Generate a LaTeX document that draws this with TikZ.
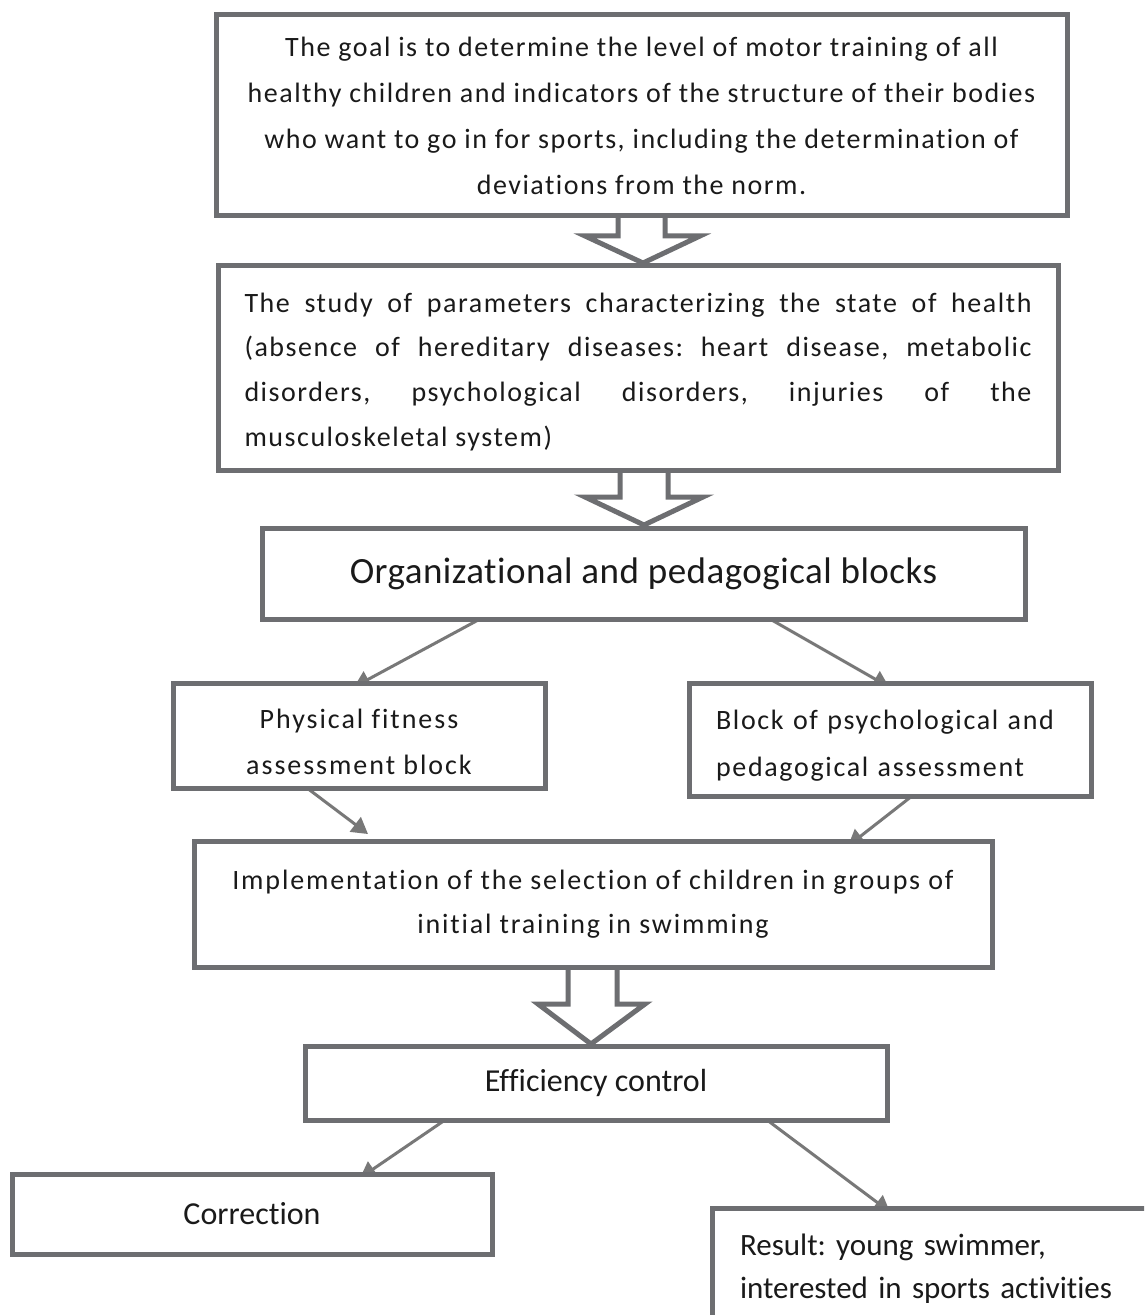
\documentclass[tikz,border=0pt]{standalone}
\usepackage{fontspec}
\setmainfont{Carlito}[Ligatures={TeX,CommonOff}]
\usetikzlibrary{calc,arrows.meta}
\definecolor{boxgray}{HTML}{6D6E71}
\definecolor{arrgray}{HTML}{787878}
\definecolor{txtc}{HTML}{1A1A1A}
\frenchspacing
\begin{document}
\begin{tikzpicture}[x=0.5pt,y=-0.5pt,
  box/.style={draw=boxgray,line width=2.5pt,fill=white,inner sep=0pt,outer sep=0pt,anchor=north west,text=txtc},
  conn/.style={draw=arrgray,line width=1.5pt,-{Triangle[length=8pt,width=9pt]}},
  barrow/.style={draw=boxgray,line width=2.5pt,fill=white,line join=miter},
  fmid/.style={font=\fontsize{16}{21.5}\selectfont}]
\useasboundingbox (0,0) rectangle (1144,1315);
\fill[white] (0,0) rectangle (1144,1315);
\clip (0,0) rectangle (1144,1315);

% block arrows
\draw[barrow] (618,216) -- (618,236) -- (585,236) -- (643,263) -- (700,236) -- (665,236) -- (665,216);
\draw[barrow] (620,470) -- (620,497) -- (585,497) -- (644,525) -- (703,497) -- (668,497) -- (668,470);
\draw[barrow] (568,967) -- (568,1004) -- (538,1004) -- (591,1044) -- (645,1004) -- (617,1004) -- (617,967);

% coordinates of box corners (arrows are drawn beneath the boxes)
\coordinate (b3sw) at (262,619);
\coordinate (b4nw) at (173,683);
\coordinate (b4sw) at (173,788);
\coordinate (b5nw) at (689,683);
\coordinate (b5sw) at (689,796);
\coordinate (b6nw) at (194,841);
\coordinate (b7sw) at (305,1120);
\coordinate (b8nw) at (12,1174);
\coordinate (b9nw) at (712,1208);

% connectors
\draw[conn] ($(b3sw)+(218,0)$) -- ($(b4nw)+(181,4)$);
\draw[conn] ($(b3sw)+(508,0)$) -- ($(b5nw)+(200,4)$);
\draw[conn] ($(b4sw)+(134,0)$) -- ($(b6nw)+(174,-7)$);
\draw[conn] ($(b5sw)+(223,0)$) -- ($(b6nw)+(654,5)$);
\draw[conn] ($(b7sw)+(140,0)$) -- ($(b8nw)+(348,4)$);
\draw[conn] ($(b7sw)+(462,0)$) -- ($(b9nw)+(178,4)$);

% boxes
\node[box,align=center,minimum width=425.5pt,minimum height=100.5pt,
      font=\fontsize{14}{23}\selectfont\addfontfeatures{LetterSpace=5.4}] (b1) at (216,15)
  {The goal is to determine the level of motor training of all\\
   healthy children and indicators of the structure of their bodies\\
   who want to go in for sports, including the determination of\\
   deviations from the norm.};
\node[box,align=justify,text width=393.5pt,minimum width=420pt,minimum height=102pt,
      font=\fontsize{14}{22.3}\selectfont\addfontfeatures{LetterSpace=5.5}] (b2) at (218,266)
  {\hyphenpenalty=10000\rule{0pt}{13.5pt}The study of parameters characterizing the state of health\linebreak
   (absence of hereditary diseases: heart disease, metabolic\linebreak
   disorders, psychological disorders, injuries of the\linebreak
   musculoskeletal system)};
\node[box,minimum width=381.5pt,minimum height=45.5pt,
      font=\fontsize{18.5}{22}\selectfont\addfontfeatures{LetterSpace=1.3}] (b3) at (262,528)
  {Organizational and pedagogical blocks};
\node[box,minimum width=186pt,minimum height=52.5pt] (b4) at (173,683) {};
\begin{scope}
  \clip (176,686) rectangle (542,774);
  \node[align=center,text=txtc,inner sep=0pt,
        font=\fontsize{14}{23}\selectfont\addfontfeatures{LetterSpace=7}] (b4t) at ($(b4.center)+(0,6)$)
    {Physical fitness\\assessment block};
\end{scope}
\node[box,align=left,text width=174pt,minimum width=201pt,minimum height=56.5pt,
      font=\fontsize{14}{23.5}\selectfont\addfontfeatures{LetterSpace=6}] (b5) at (689,683)
  {\rule{0pt}{15.5pt}Block of psychological and\\pedagogical assessment};
\node[box,align=center,minimum width=399pt,minimum height=63pt,
      font=\fontsize{14}{22}\selectfont\addfontfeatures{LetterSpace=6.6}] (b6) at (194,841)
  {Implementation of the selection of children in groups of\\initial training in swimming};
\node[box,fmid,minimum width=291pt,minimum height=37pt] (b7) at (305,1046) {Efficiency control};
\node[box,fmid,minimum width=240pt,minimum height=40pt] (b8) at (12,1174) {Correction};
\node[box,align=left,text width=222pt,minimum width=250pt,minimum height=60.5pt,
      font=\fontsize{15.5}{21.5}\selectfont] (b9) at (712,1208)
  {Result: young swimmer,\\interested in sports activities};
\end{tikzpicture}
\end{document}
